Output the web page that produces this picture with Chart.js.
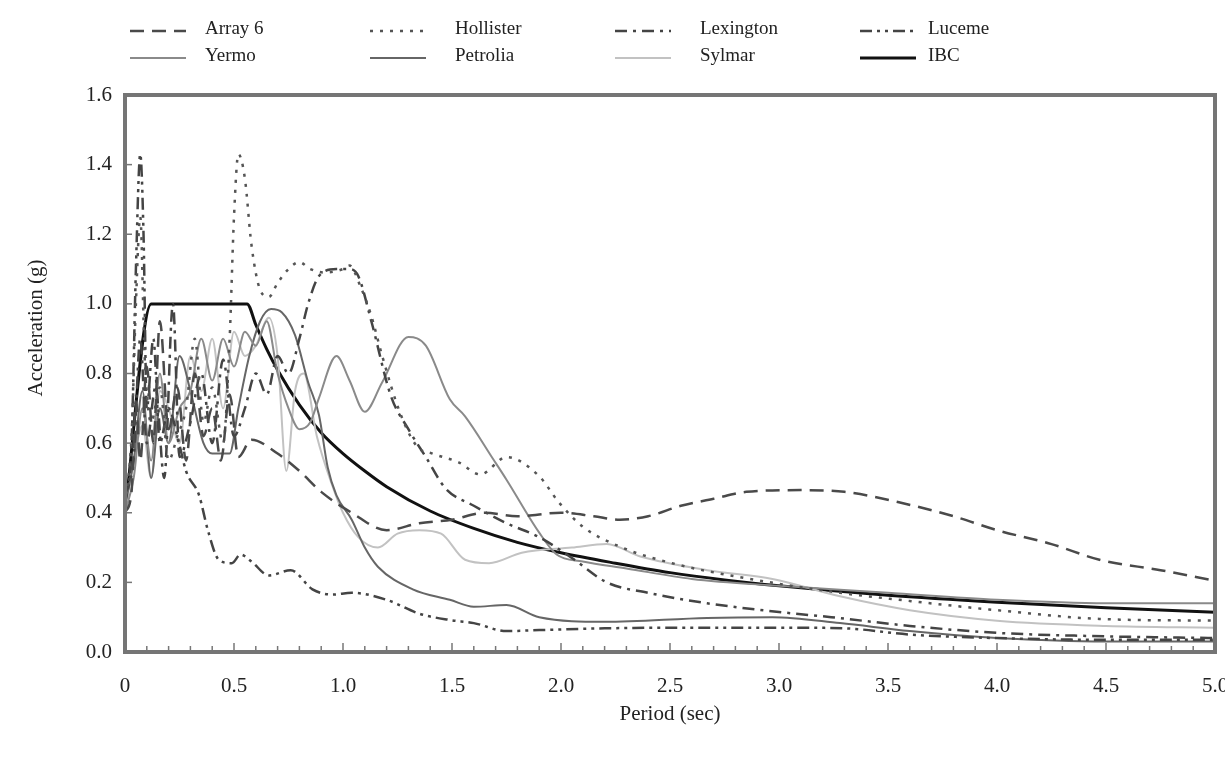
<!DOCTYPE html>
<html>
<head>
<meta charset="utf-8">
<script src="https://cdn.jsdelivr.net/npm/chart.js@4.4.1/dist/chart.umd.min.js"></script>
<style>
  html, body { margin: 0; padding: 0; background: #fff; }
  #wrap { width: 1225px; height: 758px; position: relative; }
</style>
</head>
<body>
<div id="wrap"><canvas id="spectraChart" width="1225" height="758"></canvas></div>
<script>
// tick labels
const periodTicks = ['0', '0.5', '1.0', '1.5', '2.0', '2.5', '3.0', '3.5', '4.0', '4.5', '5.0'];
const accelTicks = ['0.0', '0.2', '0.4', '0.6', '0.8', '1.0', '1.2', '1.4', '1.6'];

// Array 6
const array6T = [0, 0.03, 0.05, 0.07, 0.1, 0.13, 0.16, 0.2, 0.24, 0.28, 0.32, 0.36, 0.4, 0.44, 0.48, 0.52, 0.58, 0.7, 0.8, 0.9, 1.04, 1.2, 1.35, 1.5, 1.65, 1.8, 2.0, 2.15, 2.27, 2.4, 2.55, 2.7, 2.85, 3.1, 3.3, 3.55, 3.8, 4.0, 4.25, 4.47, 4.75, 5.0];
const array6A = [0.40, 0.46, 0.72, 0.55, 0.82, 0.60, 0.95, 0.64, 0.76, 0.55, 0.80, 0.62, 0.70, 0.55, 0.74, 0.56, 0.61, 0.57, 0.52, 0.46, 0.40, 0.35, 0.37, 0.38, 0.40, 0.39, 0.40, 0.39, 0.38, 0.39, 0.42, 0.44, 0.46, 0.465, 0.46, 0.43, 0.39, 0.35, 0.31, 0.265, 0.235, 0.205];

// Hollister
const hollisterT = [0, 0.03, 0.05, 0.07, 0.09, 0.12, 0.16, 0.2, 0.24, 0.28, 0.32, 0.36, 0.4, 0.45, 0.48, 0.5, 0.52, 0.55, 0.58, 0.62, 0.66, 0.7, 0.75, 0.8, 0.85, 0.92, 1.0, 1.03, 1.08, 1.13, 1.18, 1.26, 1.34, 1.41, 1.53, 1.63, 1.75, 1.9, 1.99, 2.1, 2.28, 2.51, 2.82, 3.28, 3.55, 4.0, 4.47, 5.0];
const hollisterA = [0.42, 0.62, 1.0, 1.25, 0.85, 0.66, 0.76, 0.55, 0.62, 0.70, 0.90, 0.66, 0.76, 0.60, 0.90, 1.25, 1.43, 1.36, 1.17, 1.04, 1.02, 1.06, 1.10, 1.12, 1.10, 1.09, 1.10, 1.11, 1.05, 0.965, 0.85, 0.69, 0.59, 0.57, 0.545, 0.51, 0.56, 0.505, 0.43, 0.36, 0.30, 0.255, 0.215, 0.17, 0.15, 0.12, 0.095, 0.09];

// Lexington
const lexingtonT = [0, 0.04, 0.07, 0.1, 0.14, 0.18, 0.22, 0.25, 0.3, 0.35, 0.4, 0.45, 0.5, 0.55, 0.6, 0.65, 0.7, 0.75, 0.8, 0.84, 0.89, 0.97, 1.03, 1.07, 1.13, 1.22, 1.3, 1.38, 1.47, 1.6, 1.75, 1.9, 2.05, 2.21, 2.4, 2.67, 3.0, 3.24, 3.6, 4.0, 4.5, 5.0];
const lexingtonA = [0.45, 0.56, 0.90, 0.60, 0.76, 0.50, 1.0, 0.56, 0.66, 0.80, 0.60, 0.84, 0.62, 0.70, 0.80, 0.74, 0.85, 0.80, 0.90, 1.0, 1.08, 1.10, 1.10, 1.08, 0.95, 0.735, 0.64, 0.56, 0.47, 0.42, 0.37, 0.33, 0.27, 0.20, 0.17, 0.14, 0.115, 0.10, 0.075, 0.055, 0.045, 0.04];

// Luceme
const lucemeT = [0, 0.03, 0.05, 0.07, 0.085, 0.1, 0.13, 0.16, 0.2, 0.24, 0.28, 0.34, 0.38, 0.43, 0.49, 0.53, 0.58, 0.66, 0.76, 0.86, 0.95, 1.04, 1.2, 1.35, 1.49, 1.6, 1.75, 1.9, 2.2, 2.6, 3.0, 3.3, 3.6, 4.0, 4.5, 5.0];
const lucemeA = [0.42, 0.60, 1.10, 1.43, 1.20, 0.70, 0.90, 0.60, 0.70, 0.62, 0.52, 0.45, 0.35, 0.265, 0.255, 0.28, 0.26, 0.22, 0.235, 0.18, 0.165, 0.17, 0.15, 0.11, 0.092, 0.083, 0.06, 0.063, 0.068, 0.07, 0.07, 0.068, 0.05, 0.04, 0.035, 0.035];

// Yermo
const yermoT = [0, 0.04, 0.08, 0.12, 0.16, 0.2, 0.25, 0.3, 0.35, 0.4, 0.45, 0.5, 0.55, 0.6, 0.65, 0.7, 0.75, 0.8, 0.85, 0.89, 0.97, 1.03, 1.1, 1.18, 1.3, 1.38, 1.49, 1.56, 1.69, 1.75, 1.9, 1.98, 2.1, 2.3, 2.6, 3.0, 3.5, 4.0, 4.5, 5.0];
const yermoA = [0.40, 0.50, 0.70, 0.55, 0.80, 0.60, 0.70, 0.75, 0.90, 0.78, 0.90, 0.82, 0.92, 0.88, 0.95, 0.80, 0.70, 0.64, 0.66, 0.73, 0.85, 0.78, 0.69, 0.775, 0.905, 0.88, 0.726, 0.677, 0.553, 0.495, 0.343, 0.28, 0.26, 0.24, 0.21, 0.19, 0.17, 0.15, 0.14, 0.14];

// Petrolia
const petroliaT = [0, 0.04, 0.08, 0.12, 0.16, 0.2, 0.25, 0.3, 0.36, 0.4, 0.48, 0.52, 0.57, 0.62, 0.67, 0.72, 0.78, 0.84, 0.89, 0.93, 0.97, 1.04, 1.1, 1.16, 1.32, 1.49, 1.6, 1.75, 1.9, 2.2, 2.67, 2.97, 3.28, 3.6, 4.0, 4.5, 5.0];
const petroliaA = [0.42, 0.55, 0.75, 0.50, 0.70, 0.60, 0.85, 0.75, 0.60, 0.57, 0.57, 0.70, 0.85, 0.95, 0.985, 0.975, 0.91, 0.775, 0.68, 0.53, 0.45, 0.38, 0.30, 0.245, 0.18, 0.15, 0.13, 0.135, 0.10, 0.087, 0.098, 0.10, 0.083, 0.06, 0.04, 0.03, 0.03];

// Sylmar
const sylmarT = [0, 0.04, 0.08, 0.12, 0.16, 0.2, 0.25, 0.3, 0.35, 0.4, 0.45, 0.5, 0.55, 0.6, 0.66, 0.7, 0.74, 0.78, 0.82, 0.88, 0.95, 1.0, 1.07, 1.16, 1.25, 1.35, 1.45, 1.56, 1.67, 1.82, 2.05, 2.21, 2.36, 2.67, 2.97, 3.28, 3.6, 4.0, 4.5, 5.0];
const sylmarA = [0.40, 0.55, 0.65, 0.50, 0.75, 0.70, 0.60, 0.85, 0.75, 0.90, 0.70, 0.92, 0.85, 0.88, 0.96, 0.85, 0.52, 0.75, 0.80, 0.62, 0.48, 0.40, 0.33, 0.30, 0.34, 0.35, 0.34, 0.265, 0.255, 0.285, 0.30, 0.31, 0.275, 0.235, 0.21, 0.16, 0.12, 0.09, 0.075, 0.07];

// IBC design spectrum
const ibcT = [0, 0.12, 0.56, 0.6, 0.65, 0.7, 0.8, 0.9, 1.0, 1.1, 1.2, 1.4, 1.6, 1.8, 2.0, 2.25, 2.5, 2.75, 3.0, 3.5, 4.0, 4.5, 5.0];
const ibcA = [0.40, 1.0, 1.0, 0.94, 0.87, 0.81, 0.71, 0.63, 0.57, 0.52, 0.475, 0.405, 0.355, 0.315, 0.285, 0.255, 0.228, 0.207, 0.19, 0.163, 0.143, 0.127, 0.114];

const FONT = '"Liberation Serif", "Times New Roman", serif';

function pts(ts, as) {
    return ts.map((t, i) => ({ x: t, y: as[i] }));
}

function line(label, ts, as, color, width, dash) {
    return {
        label: label,
        data: pts(ts, as),
        borderColor: color,
        borderWidth: width,
        borderDash: dash,
        pointRadius: 0,
        fill: false,
        cubicInterpolationMode: 'monotone'
    };
}

// legend in two rows of four, plus frame and inner tick marks
const decorPlugin = {
    id: 'decor',
    afterDraw(chart) {
        const ctx = chart.ctx;
        const area = chart.chartArea;
        const xs = chart.scales.x;
        const ys = chart.scales.y;
        ctx.save();

        // inner ticks
        ctx.strokeStyle = '#777';
        ctx.lineWidth = 1.5;
        for (let i = 0; i <= 50; i++) {
            const px = xs.getPixelForValue(i / 10);
            const len = (i % 5 === 0) ? 9 : 6;
            ctx.beginPath();
            ctx.moveTo(px, area.bottom);
            ctx.lineTo(px, area.bottom - len);
            ctx.stroke();
        }
        for (let i = 0; i <= 8; i++) {
            const py = ys.getPixelForValue(i * 0.2);
            ctx.beginPath();
            ctx.moveTo(area.left, py);
            ctx.lineTo(area.left + 7, py);
            ctx.stroke();
        }

        // frame
        ctx.strokeStyle = '#757575';
        ctx.lineWidth = 4;
        ctx.strokeRect(area.left, area.top, area.right - area.left, area.bottom - area.top);

        // y axis title
        ctx.fillStyle = '#222';
        ctx.font = '21px ' + FONT;
        ctx.textAlign = 'center';
        ctx.textBaseline = 'middle';
        ctx.translate(36, 328);
        ctx.rotate(-Math.PI / 2);
        ctx.fillText('Acceleration (g)', 0, 0);
        ctx.restore();

        // legend
        ctx.save();
        const colX = [130, 370, 615, 860];
        const textX = [205, 455, 700, 928];
        const rowY = [29, 56];
        ctx.font = '19px ' + FONT;
        ctx.textAlign = 'left';
        ctx.textBaseline = 'middle';
        chart.data.datasets.forEach((ds, i) => {
            const c = i % 4;
            const r = Math.floor(i / 4);
            ctx.strokeStyle = ds.borderColor;
            ctx.lineWidth = ds.borderWidth;
            ctx.setLineDash(ds.borderDash || []);
            ctx.beginPath();
            ctx.moveTo(colX[c], rowY[r] + 2);
            ctx.lineTo(colX[c] + 56, rowY[r] + 2);
            ctx.stroke();
            ctx.setLineDash([]);
            ctx.fillStyle = '#222';
            ctx.fillText(ds.label, textX[c], rowY[r]);
        });
        ctx.restore();
    }
};

const chart = new Chart(document.getElementById('spectraChart').getContext('2d'), {
    type: 'line',
    data: {
        datasets: [
            line('Array 6', array6T, array6A, '#4a4a4a', 2.5, [14, 8]),
            line('Hollister', hollisterT, hollisterA, '#555', 2.5, [3, 7]),
            line('Lexington', lexingtonT, lexingtonA, '#444', 2.5, [12, 6, 3, 6]),
            line('Luceme', lucemeT, lucemeA, '#444', 2.5, [12, 5, 3, 5, 3, 5]),
            line('Yermo', yermoT, yermoA, '#8a8a8a', 2, []),
            line('Petrolia', petroliaT, petroliaA, '#666', 2, []),
            line('Sylmar', sylmarT, sylmarA, '#c2c2c2', 2, []),
            line('IBC', ibcT, ibcA, '#111', 3, [])
        ]
    },
    options: {
        responsive: false,
        animation: false,
        layout: { padding: { top: 95, left: 10, right: 10, bottom: 27 } },
        plugins: { legend: { display: false }, tooltip: { enabled: false } },
        scales: {
            x: {
                type: 'linear',
                min: 0,
                max: 5,
                grid: { display: false, drawTicks: false },
                border: { display: false },
                ticks: {
                    stepSize: 0.5,
                    padding: 22,
                    color: '#222',
                    font: { family: FONT, size: 21 },
                    maxRotation: 0,
                    callback: (v, i) => periodTicks[i]
                },
                title: {
                    display: true,
                    text: 'Period (sec)',
                    color: '#222',
                    font: { family: FONT, size: 21 },
                    padding: { top: 1 }
                },
                afterFit(scale) {
                    scale.height = 79;
                    scale.paddingLeft = 0;
                    scale.paddingRight = 0;
                }
            },
            y: {
                min: 0,
                max: 1.6,
                grid: { display: false, drawTicks: false },
                border: { display: false },
                ticks: {
                    stepSize: 0.2,
                    padding: 13,
                    color: '#222',
                    font: { family: FONT, size: 21 },
                    callback: (v, i) => accelTicks[i]
                },
                afterFit(scale) {
                    scale.width = 115;
                }
            }
        }
    },
    plugins: [decorPlugin]
});
</script>
</body>
</html>
